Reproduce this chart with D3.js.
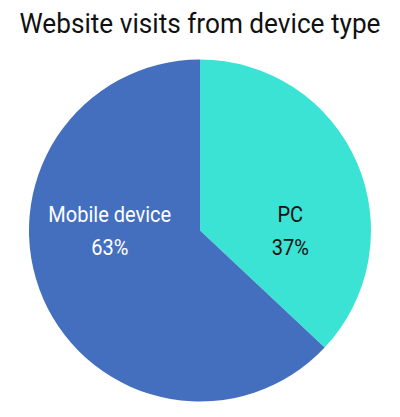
<!DOCTYPE html>
<html>
<head>
<meta charset="utf-8">
<script src="https://cdn.jsdelivr.net/npm/d3@7"></script>
<style>
html,body{margin:0;padding:0;background:#fff;}
svg{display:block;}
</style>
</head>
<body>
<svg id="chart" width="400" height="417"></svg>
<script>
const categories = ["PC", "Mobile device"];
const values = [37, 63];
const colors = ["#3BE3D5", "#446FBF"];
const textColors = ["#111111", "#ffffff"];
const title = "Website visits from device type";

const svg = d3.select("#chart");
const W = 400, H = 417;
const cx = 200, cy = 230.5, R = 171;

svg.append("text")
  .attr("x", W/2).attr("y", 33)
  .attr("text-anchor", "middle")
  .attr("font-family", "Roboto")
  .attr("font-size", 27)
  .attr("textLength", 361)
  .attr("lengthAdjust", "spacingAndGlyphs")
  .attr("fill", "#111")
  .text(title);

const data = categories.map((c,i)=>({cat:c, value:values[i], color:colors[i], tc:textColors[i]}));
const pie = d3.pie().value(d=>d.value).sort(null);
const arc = d3.arc().innerRadius(0).outerRadius(R);
const labelArc = d3.arc().innerRadius(R*0.575*2).outerRadius(0);

const g = svg.append("g").attr("transform", `translate(${cx},${cy})`);
const arcs = pie(data);
g.selectAll("path").data(arcs).join("path")
  .attr("d", arc)
  .attr("fill", d=>d.data.color);

const lbl = g.selectAll("g.lbl").data(arcs).join("g").attr("class","lbl")
  .attr("transform", d=>{ const c = labelArc.centroid(d); return `translate(${c[0]},0) scale(0.91,1)`; });
lbl.append("text")
  .attr("text-anchor","middle").attr("y", -8.5)
  .attr("font-family","Roboto").attr("font-size",22)
  .attr("fill", d=>d.data.tc)
  .text(d=>d.data.cat);
lbl.append("text")
  .attr("text-anchor","middle").attr("y", 24.5)
  .attr("font-family","Roboto").attr("font-size",22)
  .attr("fill", d=>d.data.tc)
  .text(d=>d.data.value + "%");
</script>
</body>
</html>
